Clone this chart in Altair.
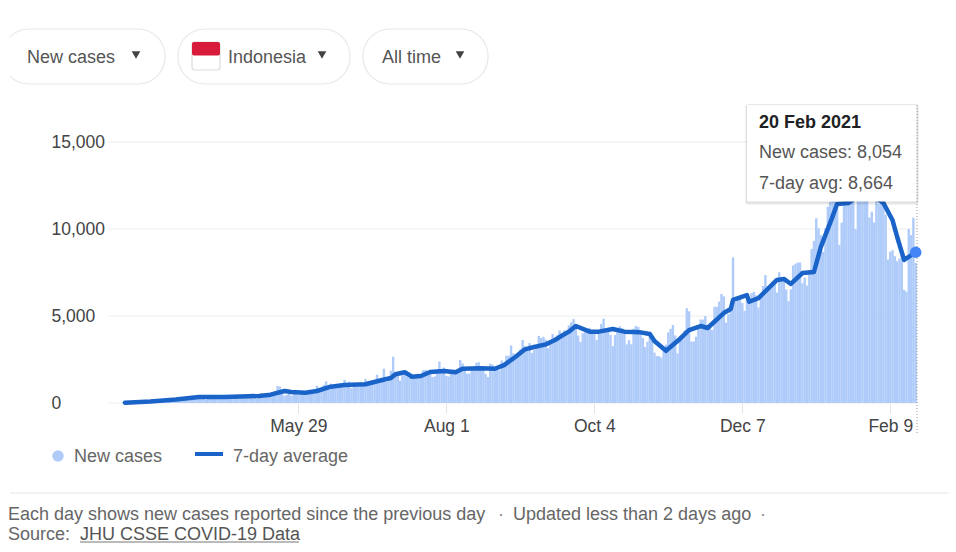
import altair as alt
import pandas as pd

# ---- daily new cases, one list per month ----
mar_2020 = [27,21,17,38,55,82,60,81,64,65,107,105,103,153,109,130,129,114]
apr_2020 = [149,113,196,106,181,150,218,247,218,337,219,330,399,316,282,297,380,326,185,375,283,357,436,396,275,214,415,260,347,347]
may_2020 = [433,292,349,395,484,367,338,336,533,387,233,484,568,496,490,529,496,486,693,973,949,526,415,479,687,415,686,700,467,557,700]
jun_2020 = [467,609,684,585,703,993,672,847,1043,1241,979,1111,1014,857,1017,1106,1031,1331,1041,1226,862,954,1051,935,1178,1113,1385,1082,1082,1293]
jul_2020 = [1293,1624,1301,1447,1976,1209,1268,1853,2657,1611,1671,1282,1591,1684,1522,1462,1693,1519,1639,1693,1461,1882,1906,1761,1868,1492,1525,1748,2381,1904,2040]
aug_2020 = [1560,1519,1679,1922,1815,1815,2473,2277,1893,1687,1693,1942,2098,2307,2345,2081,2037,1673,1492,2266,2197,2090,2037,1877,2447,2306,2719,2719,3308,2858,2743]
sep_2020 = [2775,3075,3622,3269,3128,3444,2880,3046,3307,3861,3737,3806,3636,3141,3507,3963,3635,3891,4168,3989,4176,4071,4465,4634,4823,4494,3874,3509,4002,4284]
oct_2020 = [4174,4317,4007,3992,3622,4056,4538,4850,4094,4294,3906,3267,3906,4127,4411,4301,4105,3373,3602,3373,4267,4432,4369,4070,3732,3222,3520,4029,3565,2897,2696]
nov_2020 = [2696,2618,2973,3356,4065,4262,4483,3880,2853,3779,3770,4173,5444,5272,3535,3535,3807,4265,4798,4792,4998,4360,4442,4192,5534,5526,5828,6267,6131,4617]
dec_2020 = [5092,5533,8369,5803,6027,6089,5754,5292,6058,6033,6310,6388,6189,5489,6120,6725,7354,6689,6725,6982,6848,6347,7514,7199,7073,6528,5854,6528,7903,8002,8074]
jan_2021 = [8072,6877,7203,6753,7445,8854,9321,10617,10046,9640,8692,10047,11278,11557,12818,14224,11287,9086,10365,12568,11703,13632,13802,11788,9994,13094,11948,13695,14518,13039,10656]
feb_2021 = [10994,10379,11984,11434,11749,12482,10827,8242,8700,8776,8435,8146,8300,8500,6500,6400,10000,9650,10650,8054]

months = [("2020-03-14", mar_2020), ("2020-04-01", apr_2020), ("2020-05-01", may_2020),
          ("2020-06-01", jun_2020), ("2020-07-01", jul_2020), ("2020-08-01", aug_2020),
          ("2020-09-01", sep_2020), ("2020-10-01", oct_2020), ("2020-11-01", nov_2020),
          ("2020-12-01", dec_2020), ("2021-01-01", jan_2021), ("2021-02-01", feb_2021)]

# ---- 7-day average: days since 12 Mar 2020, value ----
avg_days = [3,14,25,31,35,46,61,66,72,75,81,86,92,98,107,113,118,120,124,126,127,131,135,141,146,149,157,163,167,172,176,180,185,189,191,195,198,204,208,214,219,226,230,232,237,243,247,252,255,262,265,266,272,273,277,285,288,291,296,301,304,309,311,316,320,326,331,335,337,340,345]
avg_vals = [20,90,200,290,340,345,400,480,690,630,590,690,940,1030,1075,1280,1440,1650,1765,1610,1510,1550,1780,1840,1765,1970,1995,1970,2180,2660,3085,3220,3370,3620,3790,4100,4425,4100,4100,4250,4100,4060,3965,3560,3000,3680,4195,4425,4310,5170,5400,5920,6200,5820,6030,7070,7130,6840,7470,7530,8970,10700,11440,11500,11900,11950,11500,10500,9540,8220,8664]

y_ticks = [0, 5000, 10000, 15000]
x_ticks = [(2020, 5, 29), (2020, 8, 1), (2020, 10, 4), (2020, 12, 7), (2021, 2, 9)]

START = pd.Timestamp("2020-03-12")

rows = []
for first, vals in months:
    for d, v in zip(pd.date_range(first, periods=len(vals)), vals):
        rows.append({"date": d.strftime("%Y-%m-%d"), "cases": v})
bars_df = pd.DataFrame(rows)
avg_df = pd.DataFrame({
    "date": [(START + pd.Timedelta(days=d)).strftime("%Y-%m-%d") for d in avg_days],
    "avg": avg_vals,
})
last_df = avg_df.tail(1)

PL, PT = 110, 134
W, H = 800, 261
PAD = {"left": PL, "top": PT, "right": 30, "bottom": 141}
FONT = "Liberation Sans"
one = pd.DataFrame({"k": [0]})

def px(x):
    return x - 8 - PL

def py(y):
    return y - 8 - PT

def text(s, x, y, size=18, color="#5f6368", weight="normal"):
    return alt.Chart(one).mark_text(align="left", baseline="alphabetic", font=FONT,
                                    fontSize=size, fontWeight=weight, color=color).encode(
        x=alt.value(px(x)), y=alt.value(py(y)), text=alt.value(s))

def box(x0, y0, x1, y1, fill="white", stroke=None, radius=0, opacity=1, sw=1.2):
    kw = dict(fill=fill, cornerRadius=radius, opacity=opacity)
    if stroke:
        kw.update(stroke=stroke, strokeWidth=sw)
    return alt.Chart(one).mark_rect(**kw).encode(
        x=alt.value(px(x0)), x2=alt.value(px(x1)), y=alt.value(py(y0)), y2=alt.value(py(y1)))

def hline(x0, x1, y, color="#eeeeee", w=1.2):
    return alt.Chart(one).mark_rule(color=color, strokeWidth=w).encode(
        x=alt.value(px(x0)), x2=alt.value(px(x1)), y=alt.value(py(y)))

def caret(x, y):
    return alt.Chart(one).mark_point(shape="triangle-down", filled=True, size=75, color="#444444", opacity=1).encode(
        x=alt.value(px(x)), y=alt.value(py(y)))

x_axis = alt.Axis(values=[alt.DateTime(year=a, month=b, date=c) for a, b, c in x_ticks],
                  format="%b %-d", grid=False, domain=False, tickColor="#e3e3e3",
                  tickSize=10, labelFontSize=17.5, labelFont=FONT, labelColor="#444444",
                  labelPadding=4, labelFlush=False, labelOverlap=False)
x_enc = alt.X("date:T", title=None, axis=x_axis,
              scale=alt.Scale(padding=0, domain=[alt.DateTime(year=2020, month=3, date=12),
                                                 alt.DateTime(year=2021, month=2, date=21)]))
y_axis = alt.Axis(values=y_ticks, format=",.0f", grid=False, domain=False, ticks=False,
                  labelAlign="left", labelPadding=67, labelFontSize=17.5, labelFont=FONT,
                  labelColor="#444444")
y_scale = alt.Scale(domain=[0, 15000])

def y_enc(field):
    return alt.Y(field, scale=y_scale, title=None, axis=y_axis)

grid = alt.Chart(pd.DataFrame({"v": y_ticks})).mark_rule(color="#eeeeee", strokeWidth=1.2).encode(
    y=y_enc("v:Q"), x=alt.value(px(108)), x2=alt.value(px(918)))

bars = alt.Chart(bars_df).mark_bar(size=2.4, color="#aecbfa").encode(x=x_enc, y=y_enc("cases:Q"))

line = alt.Chart(avg_df).mark_line(color="#1a63c8", strokeWidth=4.5, strokeJoin="round", strokeCap="round").encode(
    x=x_enc, y=y_enc("avg:Q"))

dot = alt.Chart(last_df).mark_circle(size=135, color="#4285f4", opacity=1).encode(x=x_enc, y=y_enc("avg:Q"))

cursor = alt.Chart(one).mark_rule(color="#9a9a9a", strokeWidth=1, strokeDash=[1, 2]).encode(
    x=alt.value(px(917)), y=alt.value(py(105)), y2=alt.value(py(433)))

layers = [
    box(2, 29, 165, 84, stroke="#e8e8e8", radius=27),
    box(0, 20, 10, 95),
    box(178, 29, 350, 84, stroke="#e8e8e8", radius=27),
    box(363, 29, 488, 84, stroke="#e8e8e8", radius=27),
    text("New cases", 27, 63, color="#555555"),
    caret(136, 55),
    box(192, 42, 220, 70, stroke="#dddddd", radius=3),
    box(192, 42, 220, 55.5, fill="#d81b3a", radius=2),
    text("Indonesia", 228, 63, color="#555555"),
    caret(322, 55),
    text("All time", 382, 63, color="#555555"),
    caret(460, 55),
    grid, bars, line, cursor, dot,
    box(745, 104, 919, 205, fill="#000000", radius=3, opacity=0.05),
    box(746, 104.5, 918, 203.5, fill="#000000", radius=2, opacity=0.08),
    box(747, 105, 916.5, 201.5, fill="#ffffff", radius=1),
    text("20 Feb 2021", 759, 128, color="#202124", weight="bold"),
    text("New cases: 8,054", 759, 158, color="#555555"),
    text("7-day avg: 8,664", 759, 189, color="#555555"),
    alt.Chart(one).mark_circle(size=130, color="#aecbfa", opacity=1).encode(
        x=alt.value(px(58)), y=alt.value(py(456))),
    text("New cases", 74, 462, color="#666666"),
    hline(195, 223, 454, color="#1a63c8", w=4),
    text("7-day average", 233, 462, color="#666666"),
    hline(10, 948, 493, color="#e6e6e6"),
    text("Each day shows new cases reported since the previous day", 8, 520, color="#666666"),
    text("·", 498, 520, color="#888888"),
    text("Updated less than 2 days ago", 513, 520, color="#666666"),
    text("·", 760, 520, color="#888888"),
    text("Source:", 8, 540, color="#666666"),
    text("JHU CSSE COVID-19 Data", 80, 540, color="#555555"),
    hline(80, 299, 542, color="#777777", w=1),
]

chart = alt.layer(*layers).properties(
    width=W, height=H, padding=PAD, autosize=alt.AutoSizeParams(type="none"), background="white"
).configure_view(stroke=None)

chart.save("out.html", embed_options={"renderer": "svg", "actions": False})
